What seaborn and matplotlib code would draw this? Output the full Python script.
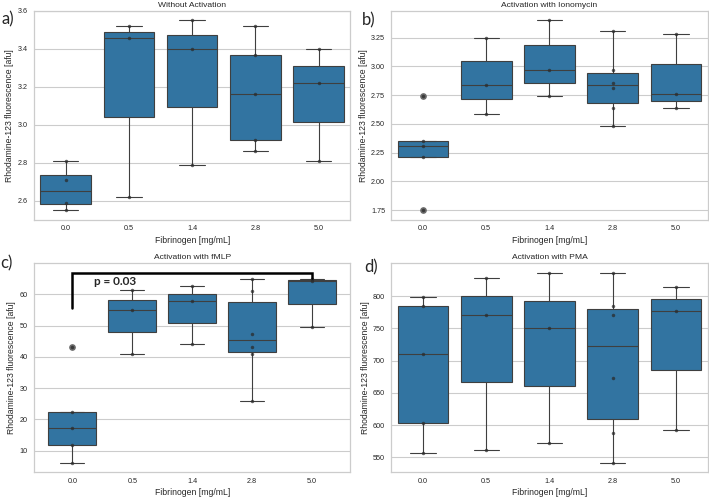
import numpy as np
import pandas as pd
import matplotlib
matplotlib.use("Agg")
import matplotlib.pyplot as plt
import seaborn as sns

# Fibrinogen concentrations (x categories)
fibrinogen = ["0.0", "0.5", "1.4", "2.8", "5.0"]

# Rhodamine-123 fluorescence values, one list per concentration
no_activation = [
    [2.81, 2.71, 2.59, 2.55],
    [3.52, 3.46, 2.62],
    [3.55, 3.40, 2.79],
    [3.52, 3.37, 3.16, 2.92, 2.86],
    [3.40, 3.22, 2.81],
]
ionomycin = [
    [2.74, 2.35, 2.31, 2.21, 1.75],
    [3.25, 2.84, 2.59],
    [3.40, 2.97, 2.74],
    [3.31, 2.97, 2.86, 2.81, 2.64, 2.48],
    [3.28, 2.76, 2.64],
]
fmlp = [
    [43.3, 22.3, 17.3, 11.9, 6.2],
    [61.5, 55.1, 41.0],
    [62.6, 57.8, 44.2],
    [64.8, 61.0, 47.4, 43.3, 40.9, 25.9],
    [64.8, 64.3, 49.5],
]
pma = [
    [799, 784, 710, 604, 557],
    [828, 771, 562],
    [836, 750, 573],
    [836, 784, 771, 673, 588, 542],
    [814, 777, 593],
]

titles = ["Without Activation", "Activation with Ionomycin",
          "Activation with fMLP", "Activation with PMA"]
panel_labels = ["a)", "b)", "c)", "d)"]


def to_long(groups):
    rows = []
    for conc, vals in zip(fibrinogen, groups):
        for v in vals:
            rows.append({"Fibrinogen": conc, "Fluorescence": v})
    return pd.DataFrame(rows)


sns.set_theme(style="whitegrid")
plt.rcParams["font.family"] = ["Liberation Sans", "DejaVu Sans"]
plt.rcParams["axes.labelsize"] = 6.2
plt.rcParams["axes.titlesize"] = 6.1
plt.rcParams["xtick.labelsize"] = 5.2
plt.rcParams["ytick.labelsize"] = 5.2
plt.rcParams["axes.linewidth"] = 0.9
plt.rcParams["grid.linewidth"] = 0.8
# no visible ticks, keep label gaps small like the reference
plt.rcParams["xtick.major.size"] = 0
plt.rcParams["ytick.major.size"] = 0
plt.rcParams["xtick.major.pad"] = 4
plt.rcParams["ytick.major.pad"] = 4.5
plt.rcParams["axes.titlepad"] = 3
plt.rcParams["axes.labelpad"] = 2.5

fig, axes = plt.subplots(2, 2, figsize=(7.09, 4.98), dpi=100)
fig.subplots_adjust(left=0.048, right=0.998, top=0.978, bottom=0.052,
                    wspace=0.13, hspace=0.21)

datasets = [no_activation, ionomycin, fmlp, pma]
for ax, groups, title in zip(axes.flat, datasets, titles):
    df = to_long(groups)
    sns.boxplot(data=df, x="Fibrinogen", y="Fluorescence", order=fibrinogen,
                color="#1f77b4", linewidth=0.8, ax=ax,
                flierprops=dict(marker="o", markerfacecolor="#6a6a6a",
                                markeredgecolor="#6a6a6a", markersize=3.8))
    sns.stripplot(data=df, x="Fibrinogen", y="Fluorescence", order=fibrinogen,
                  jitter=False, color="#2b2b2b", alpha=0.75, size=2.5, ax=ax)
    ax.set_title(title)
    ax.set_xlabel("Fibrinogen [mg/mL]")
    ax.set_ylabel("Rhodamine-123 fluorescence [afu]")

axes[0, 0].set_yticks([2.6, 2.8, 3.0, 3.2, 3.4, 3.6])
axes[0, 1].set_yticks([1.75, 2.00, 2.25, 2.50, 2.75, 3.00, 3.25])
axes[1, 0].set_yticks([10, 20, 30, 40, 50, 60])
axes[1, 1].set_yticks([550, 600, 650, 700, 750, 800])

# significance bracket on panel c
ax = axes[1, 0]
ax.plot([0, 0, 4, 4], [55.7, 66.9, 66.9, 65.3], color="black", lw=1.8,
        solid_joinstyle="miter", zorder=5)
ax.text(0.71, 64.3, "p = 0.03", ha="center", va="center", fontsize=8.5,
        fontweight="bold", family=["Lato", "DejaVu Sans"], zorder=6)

# panel letters
label_pos = [(0.002, 0.962), (0.511, 0.960), (0.001, 0.472), (0.514, 0.464)]
for lab, (x, y) in zip(panel_labels, label_pos):
    fig.text(x, y, lab, fontsize=12, ha="left", va="center",
             family=["Lato", "DejaVu Sans"])

fig.savefig("out.png", dpi=100)
